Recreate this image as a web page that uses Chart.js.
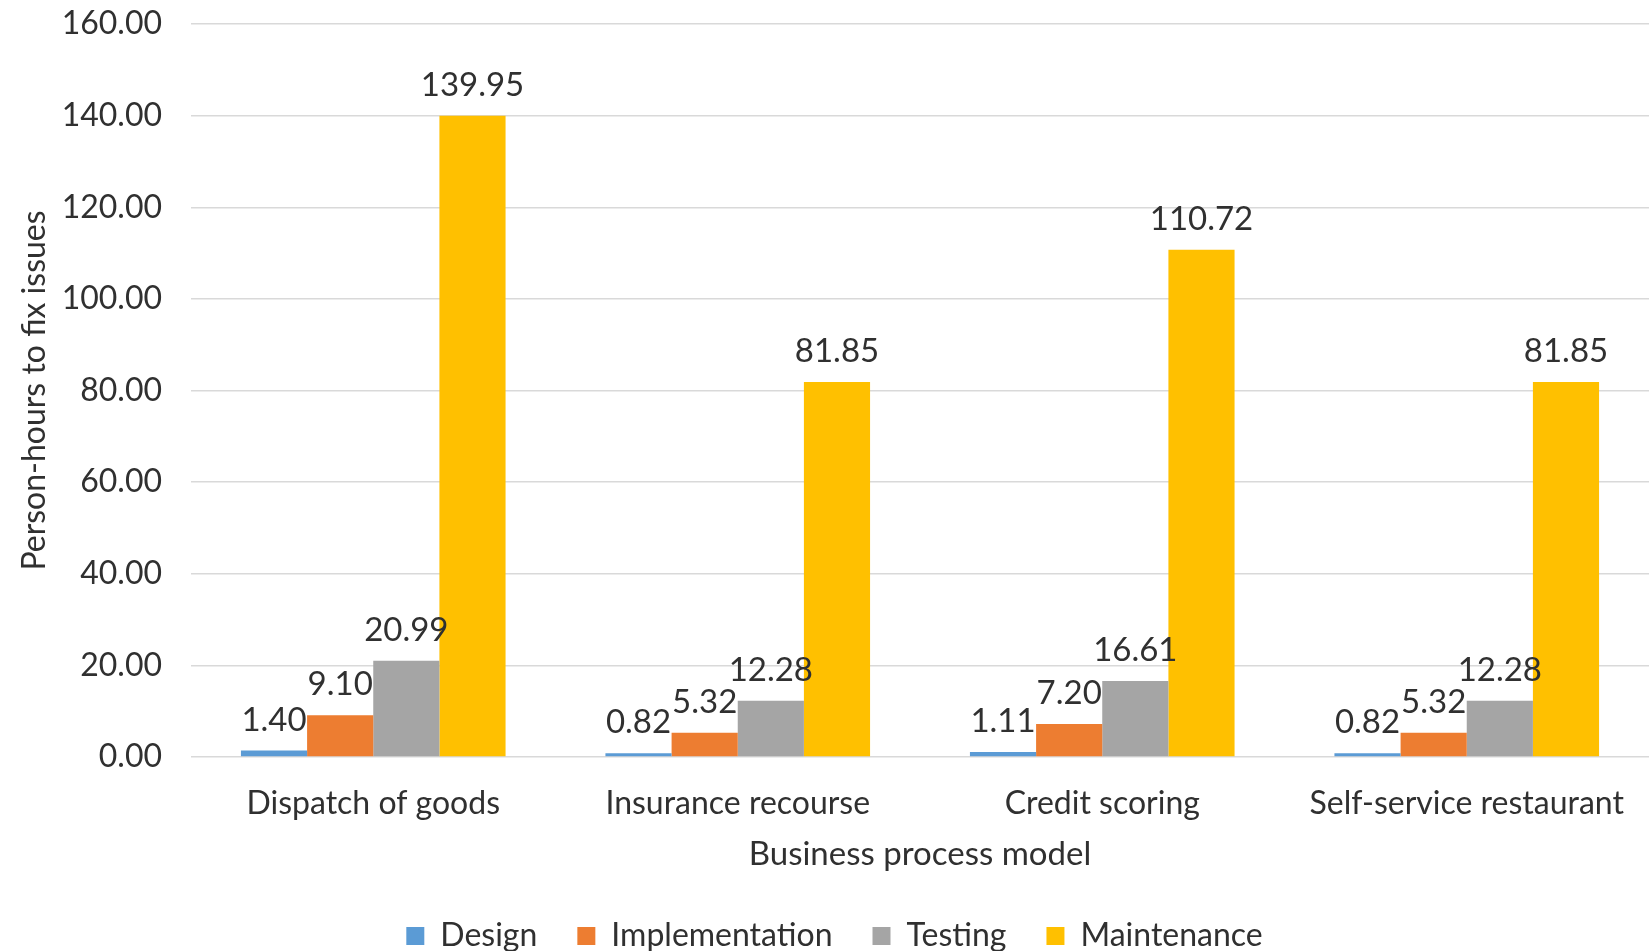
<!DOCTYPE html>
<html>
<head>
<meta charset="utf-8">
<script src="https://cdn.jsdelivr.net/npm/chart.js@4.4.0/dist/chart.umd.min.js"></script>
<style>
  body { margin: 0; background: #fff; }
  #chart { display: block; }
</style>
</head>
<body>
<canvas id="chart" width="1649" height="951"></canvas>
<script>
const categories = ["Dispatch of goods", "Insurance recourse", "Credit scoring", "Self-service restaurant"];
const design = [1.40, 0.82, 1.11, 0.82];
const implementation = [9.10, 5.32, 7.20, 5.32];
const testing = [20.99, 12.28, 16.61, 12.28];
const maintenance = [139.95, 81.85, 110.72, 81.85];
const yTicks = [0, 20, 40, 60, 80, 100, 120, 140, 160];

const FONT = "Lato";
const TEXT = "#303030";

// Value labels above each bar
const barLabels = {
  id: "barLabels",
  afterDatasetsDraw(chart) {
    const ctx = chart.ctx;
    ctx.save();
    ctx.font = "33px " + FONT;
    ctx.fillStyle = TEXT;
    ctx.textAlign = "center";
    ctx.textBaseline = "alphabetic";
    chart.data.datasets.forEach((ds, i) => {
      chart.getDatasetMeta(i).data.forEach((bar, j) => {
        ctx.fillText(ds.data[j].toFixed(2), bar.x, bar.y - 20);
      });
    });
    ctx.restore();
  },
};

// nudge legend and axis title down a little
const legendShift = {
  id: "legendShift",
  afterLayout(chart) {
    chart.legend.top += 11;
    chart.legend.bottom += 11;
    chart.scales.x.bottom += 5;
  },
};

const ctx = document.getElementById("chart").getContext("2d");
new Chart(ctx, {
  type: "bar",
  data: {
    labels: categories,
    datasets: [
      { label: "Design", data: design, backgroundColor: "#5B9BD5" },
      { label: "Implementation", data: implementation, backgroundColor: "#ED7D31" },
      { label: "Testing", data: testing, backgroundColor: "#A5A5A5" },
      { label: "Maintenance", data: maintenance, backgroundColor: "#FFC000" },
    ],
  },
  options: {
    responsive: false,
    animation: false,
    layout: { padding: { left: 20, right: 0, top: 24, bottom: 0 } },
    datasets: {
      bar: { categoryPercentage: 0.726, barPercentage: 1, borderWidth: 0 },
    },
    scales: {
      x: {
        grid: { display: false },
        border: { display: false },
        ticks: { font: { family: FONT, size: 32 }, color: TEXT, padding: 19, maxRotation: 0 },
        title: {
          display: true,
          text: "Business process model",
          font: { family: FONT, size: 33 },
          color: TEXT,
          padding: { top: 0, bottom: 0 },
        },
        afterFit: (s) => { s.height = 112; },
      },
      y: {
        min: 0,
        max: 160,
        afterBuildTicks: (s) => { s.ticks = yTicks.map((v) => ({ value: v })); },
        grid: {
          color: "#d9d9d9",
          lineWidth: 1.5,
          drawTicks: true,
          tickLength: 29,
          tickColor: "rgba(0,0,0,0)",
        },
        border: { display: false },
        ticks: {
          font: { family: FONT, size: 32 },
          color: TEXT,
          padding: 0,
          callback: (v) => Number(v).toFixed(2),
        },
        title: {
          display: true,
          text: "Person-hours to fix issues",
          font: { family: FONT, size: 32 },
          color: TEXT,
          padding: { top: -5, bottom: 0 },
        },
        afterFit: (s) => { s.width = 171; },
      },
    },
    plugins: {
      legend: {
        position: "bottom",
        labels: {
          font: { family: FONT, size: 32 },
          color: TEXT,
          boxWidth: 18,
          boxHeight: 18,
          padding: 40,
        },
      },
      tooltip: { enabled: false },
    },
  },
  plugins: [barLabels, legendShift],
});
</script>
</body>
</html>
